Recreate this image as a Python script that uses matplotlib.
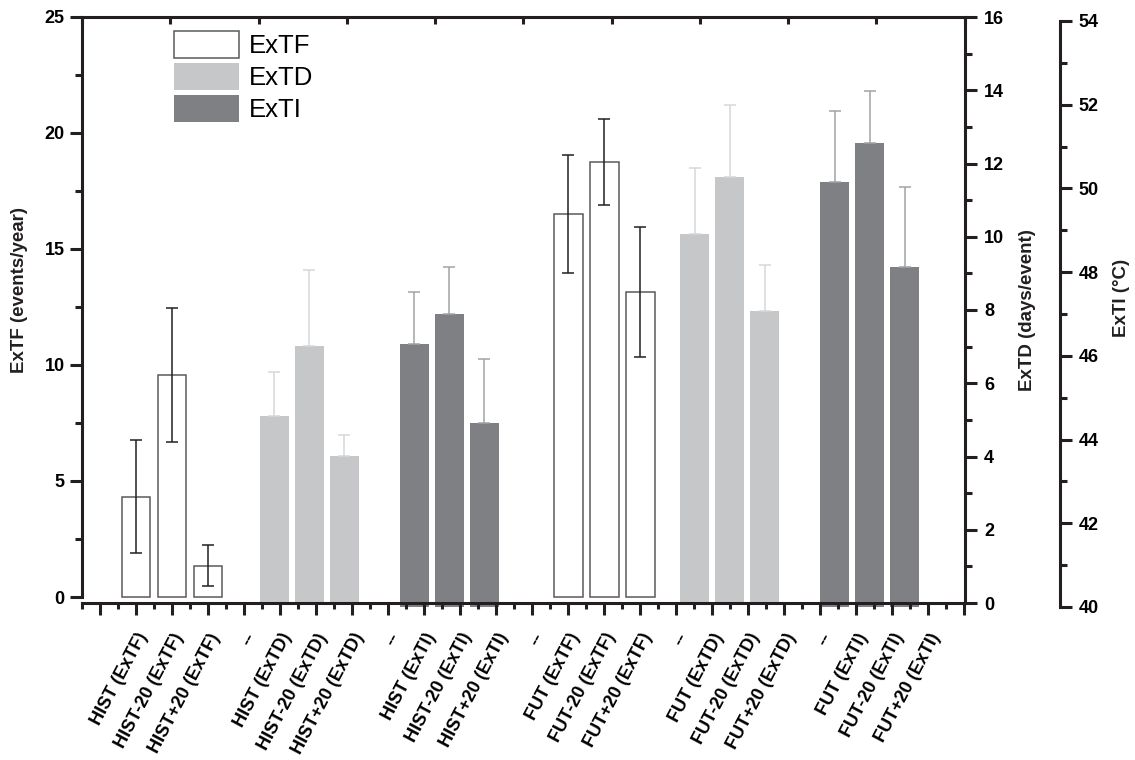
import numpy as np
import matplotlib
matplotlib.use('Agg')
import matplotlib.pyplot as plt
from matplotlib.ticker import FixedLocator, MultipleLocator

plt.rcParams['font.family'] = ['Liberation Sans', 'DejaVu Sans']
plt.rcParams['font.weight'] = 'bold'

# category slots along the x axis ('' = empty slot, '--' = separator)
categories = ['', 'HIST (ExTF)', 'HIST-20 (ExTF)', 'HIST+20 (ExTF)', '--',
              'HIST (ExTD)', 'HIST-20 (ExTD)', 'HIST+20 (ExTD)', '--',
              'HIST (ExTI)', 'HIST-20 (ExTI)', 'HIST+20 (ExTI)', '--',
              'FUT (ExTF)', 'FUT-20 (ExTF)', 'FUT+20 (ExTF)', '--',
              'FUT (ExTD)', 'FUT-20 (ExTD)', 'FUT+20 (ExTD)', '--',
              'FUT (ExTI)', 'FUT-20 (ExTI)', 'FUT+20 (ExTI)', '']
scenarios = ['HIST', 'HIST-20', 'HIST+20', 'FUT', 'FUT-20', 'FUT+20']

# ExTF (events/year), symmetric error
extf = [4.32, 9.58, 1.35, 16.52, 18.76, 13.16]
extf_err = [2.43, 2.89, 0.87, 2.55, 1.86, 2.80]
# ExTD (days/event), upper error only
extd = [5.11, 7.03, 4.02, 10.07, 11.62, 7.98]
extd_err = [1.20, 2.07, 0.58, 1.80, 1.98, 1.25]
# ExTI (degC), upper error only
exti = [46.28, 47.00, 44.40, 50.16, 51.09, 48.13]
exti_err = [1.25, 1.12, 1.53, 1.68, 1.23, 1.91]

pos_f = [categories.index(f'{s} (ExTF)') for s in scenarios]
pos_d = [categories.index(f'{s} (ExTD)') for s in scenarios]
pos_i = [categories.index(f'{s} (ExTI)') for s in scenarios]

W, H = 1135, 760
fig = plt.figure(figsize=(W / 100, H / 100), dpi=100)


def box(x0, x1, ytop, ybot):
    return [x0 / W, 1 - ybot / H, (x1 - x0) / W, (ybot - ytop) / H]


ink = '#231f20'
lw = 2.2

# layers (Origin-like, each with its own frame)
ax3 = fig.add_axes(box(82, 1060, 21, 607), zorder=1)
ax2 = fig.add_axes(box(82, 965, 17, 603), zorder=2)
ax1 = fig.add_axes(box(82, 964.5, 17, 603), zorder=3)
for a in (ax1, ax2, ax3):
    a.patch.set_visible(False)

# --- ExTF layer
b1 = ax1.bar(pos_f, extf, width=0.8, color='white', edgecolor='#5a5a5a', linewidth=1.1)
ax1.errorbar(pos_f, extf, yerr=extf_err, fmt='none', ecolor=ink,
             elinewidth=1.1, capsize=4.5, capthick=1.1)
ax1.set_xlim(-0.5, 24)
ax1.set_ylim(-6 / 23.2, 25)
ax1.set_xticks(range(len(categories)))
ax1.set_xticklabels(categories, rotation=62, ha='right', va='top',
                    rotation_mode='anchor', fontsize=13)
ax1.xaxis.set_minor_locator(FixedLocator(np.arange(-0.5, 24, 1)))
ax1.yaxis.set_major_locator(MultipleLocator(5))
ax1.yaxis.set_minor_locator(MultipleLocator(2.5))
ax1.tick_params(axis='x', which='major', length=8.6, width=lw, color=ink, pad=11)
ax1.tick_params(axis='x', which='minor', length=4.5, width=lw, color=ink)
ax1.tick_params(axis='y', which='major', length=8.6, width=lw, color=ink,
                labelsize=13, pad=4)
ax1.tick_params(axis='y', which='minor', length=5, width=lw, color=ink)
ax1.spines['right'].set_visible(False)
ax1.spines['left'].set_bounds(0, 25)
for s in ('left', 'top', 'bottom'):
    ax1.spines[s].set_linewidth(lw)
    ax1.spines[s].set_color(ink)

# --- ExTD layer
b2 = ax2.bar(pos_d, extd, width=0.82, color='#c6c7c9', linewidth=0)
ax2.errorbar(pos_d, extd, yerr=[np.zeros(len(extd)), extd_err], fmt='none',
             ecolor='#d6d7d9', elinewidth=1.1, capsize=4.5, capthick=1.1)
ax2.set_xlim(-17 / 35.03, 866 / 35.03)
ax2.set_ylim(0, 16)
ax2.yaxis.set_major_locator(MultipleLocator(2))
ax2.yaxis.set_minor_locator(MultipleLocator(1))
ax2.yaxis.tick_right()
ax2.set_xticks([])
ax2.tick_params(axis='y', which='major', length=8.6, width=lw, color=ink,
                labelsize=13, pad=5)
ax2.tick_params(axis='y', which='minor', length=5, width=lw, color=ink)
for s in ('left', 'top', 'bottom'):
    ax2.spines[s].set_visible(False)
ax2.spines['right'].set_linewidth(lw)
ax2.spines['right'].set_color(ink)

# --- ExTI layer
b3 = ax3.bar(pos_i, exti, bottom=0, width=0.82, color='#7f8084', linewidth=0)
ax3.errorbar(pos_i, exti, yerr=[np.zeros(len(exti)), exti_err], fmt='none',
             ecolor='#a2a3a5', elinewidth=1.1, capsize=4.5, capthick=1.1)
ax3.set_xlim(-17 / 35.03, 961 / 35.03)
ax3.set_ylim(40, 54)
ax3.yaxis.set_major_locator(MultipleLocator(2))
ax3.yaxis.set_minor_locator(MultipleLocator(1))
ax3.yaxis.tick_right()
ax3.set_xticks([])
ax3.tick_params(axis='y', which='major', length=8.6, width=lw, color=ink,
                labelsize=13, pad=5)
ax3.tick_params(axis='y', which='minor', length=5, width=lw, color=ink)
for s in ('left', 'top', 'bottom'):
    ax3.spines[s].set_visible(False)
ax3.spines['right'].set_linewidth(lw)
ax3.spines['right'].set_color(ink)

# top axis ticks (inward, 10 divisions)
axt = ax1.twiny()
axt.patch.set_visible(False)
axt.set_xlim(0, 10)
axt.set_xticks(range(11))
axt.tick_params(axis='x', which='major', direction='in', length=5, width=lw,
                color=ink, labeltop=False)
for s in axt.spines.values():
    s.set_visible(False)

# axis titles
fig.text(20 / W, 1 - 290 / H, 'ExTF (events/year)', rotation=90, ha='center',
         va='center', fontsize=13.5, color=ink)
fig.text(1027 / W, 1 - 310 / H, 'ExTD (days/event)', rotation=90, ha='center',
         va='center', fontsize=13.5, color=ink)
fig.text(1122 / W, 1 - 298 / H, 'ExTI (°C)', rotation=90, ha='center',
         va='center', fontsize=13.5, color=ink)

ax1.legend([b1, b2, b3], ['ExTF', 'ExTD', 'ExTI'], loc='upper left',
           bbox_to_anchor=(174 / W, 1 - 31 / H), bbox_transform=fig.transFigure,
           frameon=False, borderpad=0, borderaxespad=0,
           handlelength=2.52, handleheight=1.24, labelspacing=0.18,
           handletextpad=0.4, prop={'weight': 'normal', 'size': 18.5})

fig.savefig('out.png', dpi=100)
